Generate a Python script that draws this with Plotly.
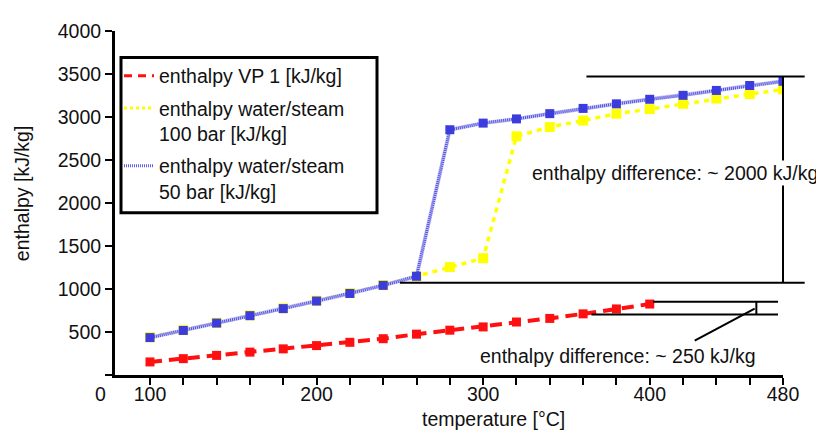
import plotly.graph_objects as go

# ---------------- data ----------------
temp_water = [100, 120, 140, 160, 180, 200, 220, 240, 260, 280, 300, 320, 340, 360, 380, 400, 420, 440, 460, 480]
h_100bar = [440, 522, 607, 693, 776, 864, 953, 1046, 1148, 1255, 1358, 2776, 2883, 2959, 3039, 3092, 3153, 3214, 3267, 3320]
h_50bar = [435, 518, 604, 690, 772, 860, 948, 1042, 1148, 2852, 2929, 2978, 3039, 3100, 3153, 3206, 3252, 3309, 3366, 3415]

temp_vp = [100, 120, 140, 160, 180, 200, 220, 240, 260, 280, 300, 320, 340, 360, 380, 400]
h_vp1 = [152, 190, 228, 266, 304, 342, 380, 422, 475, 521, 559, 616, 658, 711, 768, 825]

x_tickvals = [100, 120, 140, 160, 180, 200, 220, 240, 260, 280, 300, 320, 340, 360, 380, 400, 420, 440, 460, 480]
x_ticktext = ["100", "", "", "", "", "200", "", "", "", "", "300", "", "", "", "", "400", "", "", "", "480"]
y_tickvals = [0, 500, 1000, 1500, 2000, 2500, 3000, 3500, 4000]
y_ticktext = ["", "500", "1000", "1500", "2000", "2500", "3000", "3500", "4000"]

names = ["enthalpy VP 1 [kJ/kg]", "enthalpy water/steam<br>100 bar [kJ/kg]", "enthalpy water/steam<br>50 bar [kJ/kg]"]

# annotation levels (kJ/kg)
big_hi, big_lo = 3470, 1072
small_hi, small_lo = 852, 704

X_MIN, X_MAX = 79, 480
Y_MIN, Y_MAX = 0, 4000

FONT = "Liberation Sans, Arial, sans-serif"
FS = 19.5

# page body has an 8px margin; plot area should span page px x 115..783, y 24.5..375
PW, PH = 816, 425
ML, MR, MT, MB = 107, 41, 17, 58
PLOT_W = PW - ML - MR
PLOT_H = PH - MT - MB

def px(x):
    return (x - X_MIN) / (X_MAX - X_MIN)

def py(y):
    return (y - Y_MIN) / (Y_MAX - Y_MIN)

def pagex(p):  # page pixel -> paper x
    return (p - 8 - ML) / PLOT_W

def pagey(p):  # page pixel -> paper y
    return (PH - MB - (p - 8)) / PLOT_H

fig = go.Figure()

# red VP 1
fig.add_trace(go.Scatter(x=temp_vp, y=h_vp1, mode="lines+markers", showlegend=False,
                         line=dict(color="#ff1010", width=4, dash="12px,7px"),
                         marker=dict(symbol="square", size=9, color="#ff1010")))
# yellow 100 bar
fig.add_trace(go.Scatter(x=temp_water, y=h_100bar, mode="lines+markers", showlegend=False,
                         line=dict(color="#ffff00", width=3.5, dash="5px,5px"),
                         marker=dict(symbol="square", size=10, color="#ffff00")))
# blue 50 bar: light base + fine dotted overlay
fig.add_trace(go.Scatter(x=temp_water, y=h_50bar, mode="lines", showlegend=False, hoverinfo="skip",
                         line=dict(color="#c4c4f4", width=4)))
fig.add_trace(go.Scatter(x=temp_water, y=h_50bar, mode="lines+markers", showlegend=False,
                         line=dict(color="#5050e0", width=3, dash="1px,1px"),
                         marker=dict(symbol="square", size=9, color="#3c3cdc")))

# legend-only traces
fig.add_trace(go.Scatter(x=[None], y=[None], mode="lines", name=names[0], legendgroup="a",
                         line=dict(color="#ff1010", width=3, dash="8px,6px")))
fig.add_trace(go.Scatter(x=[None], y=[None], mode="lines", name=names[1], legendgroup="b",
                         line=dict(color="#ffff00", width=3, dash="3px,3px")))
fig.add_trace(go.Scatter(x=[None], y=[None], mode="lines", name=names[2], legendgroup="c",
                         line=dict(color="#6060e8", width=3, dash="1px,1px")))

shapes = []
line = dict(color="black", width=2)
def seg(x0, y0, x1, y1):
    shapes.append(dict(type="line", xref="paper", yref="paper",
                       x0=px(x0), y0=py(y0), x1=px(x1), y1=py(y1), line=line))

seg(362, big_hi, 493, big_hi)
seg(480, big_hi, 480, big_lo)
seg(250, big_lo, 493, big_lo)
seg(402, small_hi, 477, small_hi)
seg(365, small_lo, 477, small_lo)
seg(464, small_hi, 464, small_lo)
seg(463, 773, 427, 400)

# legend frame
shapes.append(dict(type="rect", xref="paper", yref="paper",
                   x0=pagex(121), x1=pagex(377), y0=pagey(210), y1=pagey(52),
                   line=dict(color="black", width=3), fillcolor="rgba(0,0,0,0)"))

tf = dict(size=FS, color="#111", family=FONT)
annotations = [
    dict(x=415, y=2350, xref="x", yref="y", text="enthalpy difference: ~ 2000 kJ/kg",
         xanchor="center", yanchor="middle", showarrow=False, bgcolor="white", font=tf),
    dict(x=381, y=217, xref="x", yref="y", text="enthalpy difference: ~ 250 kJ/kg",
         xanchor="center", yanchor="middle", showarrow=False, font=tf),
    dict(x=pagex(493), y=pagey(420), xref="paper", yref="paper", xanchor="center", yanchor="middle",
         text="temperature [°C]", showarrow=False, font=tf),
    dict(x=pagex(22), y=pagey(190), xref="paper", yref="paper", xanchor="center", yanchor="middle",
         text="enthalpy [kJ/kg]", textangle=-90, showarrow=False, font=tf),
    dict(x=pagex(100), y=pagey(394), xref="paper", yref="paper", xanchor="center", yanchor="middle",
         text="0", showarrow=False, font=tf),
]

fig.update_layout(
    width=PW, height=PH,
    margin=dict(l=ML, r=MR, t=MT, b=MB),
    paper_bgcolor="white", plot_bgcolor="white",
    font=dict(family=FONT, size=FS, color="#111"),
    shapes=shapes, annotations=annotations,
    legend=dict(x=pagex(119), y=pagey(51), xanchor="left", yanchor="top", valign="top",
                bgcolor="rgba(0,0,0,0)", borderwidth=0,
                font=dict(size=FS, family=FONT, color="#111"), tracegroupgap=4),
    xaxis=dict(range=[X_MIN, X_MAX], tickvals=x_tickvals, ticktext=x_ticktext,
               showline=True, linecolor="black", linewidth=3, ticks="outside",
               ticklen=7, tickwidth=2, tickcolor="black", showgrid=False, zeroline=False,
               ticklabelstandoff=-7),
    yaxis=dict(range=[Y_MIN, Y_MAX], tickvals=y_tickvals, ticktext=y_ticktext,
               showline=True, linecolor="black", linewidth=3, ticks="outside",
               ticklen=7, tickwidth=2, tickcolor="black", showgrid=False, zeroline=False),
)

fig.write_html("out.html")
